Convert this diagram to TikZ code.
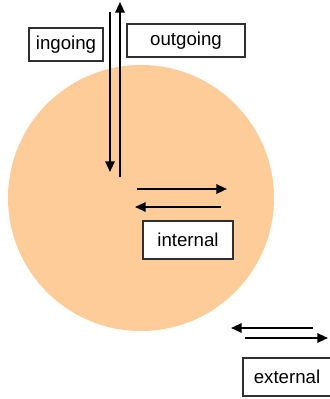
\documentclass[tikz,border=0pt]{standalone}
\usepackage{fontspec}
\setmainfont{Liberation Sans}
\usetikzlibrary{arrows.meta}
\definecolor{peach}{HTML}{FECC98}
\definecolor{boxline}{HTML}{303030}
\begin{document}
\begin{tikzpicture}[x=0.75pt,y=-0.75pt,
  lbl/.style={draw=boxline,line width=1.4pt,fill=white,inner sep=0pt,
    font=\fontsize{14}{16}\selectfont,text=black},
  arr/.style={line width=1.5pt,-{Triangle[length=8pt,width=7pt]}}]
\useasboundingbox (0,0) rectangle (329,399);
\node[circle,fill=peach,draw=none,minimum size=199.5pt,inner sep=0pt] (disc) at (141,198) {};
% labels
\node[lbl,minimum width=55.5pt,minimum height=24.75pt] (ingoing) at (66,44.5) {ingoing};
\node[lbl,minimum width=88.5pt,minimum height=24.75pt] (outgoing) at (186,40.5) {outgoing};
\node[lbl,minimum width=67.5pt,minimum height=28.5pt] (internal) at (188,240) {internal};
\node[lbl,minimum width=66pt,minimum height=28.5pt] (external) at (287,377) {external};
% arrow end points
\coordinate (inS) at (110,12);
\coordinate (inE) at (110,172);
\coordinate (outS) at (120,177);
\coordinate (outE) at (120,2);
\coordinate (irS) at (137,189);
\coordinate (irE) at (227,189);
\coordinate (ilS) at (221,207);
\coordinate (ilE) at (135,207);
\coordinate (elS) at (313,328);
\coordinate (elE) at (231,328);
\coordinate (erS) at (245,338);
\coordinate (erE) at (328,338);
\draw[arr] (inS) -- (inE);
\draw[arr] (outS) -- (outE);
\draw[arr] (irS) -- (irE);
\draw[arr] (ilS) -- (ilE);
\draw[arr] (elS) -- (elE);
\draw[arr] (erS) -- (erE);
\end{tikzpicture}
\end{document}
